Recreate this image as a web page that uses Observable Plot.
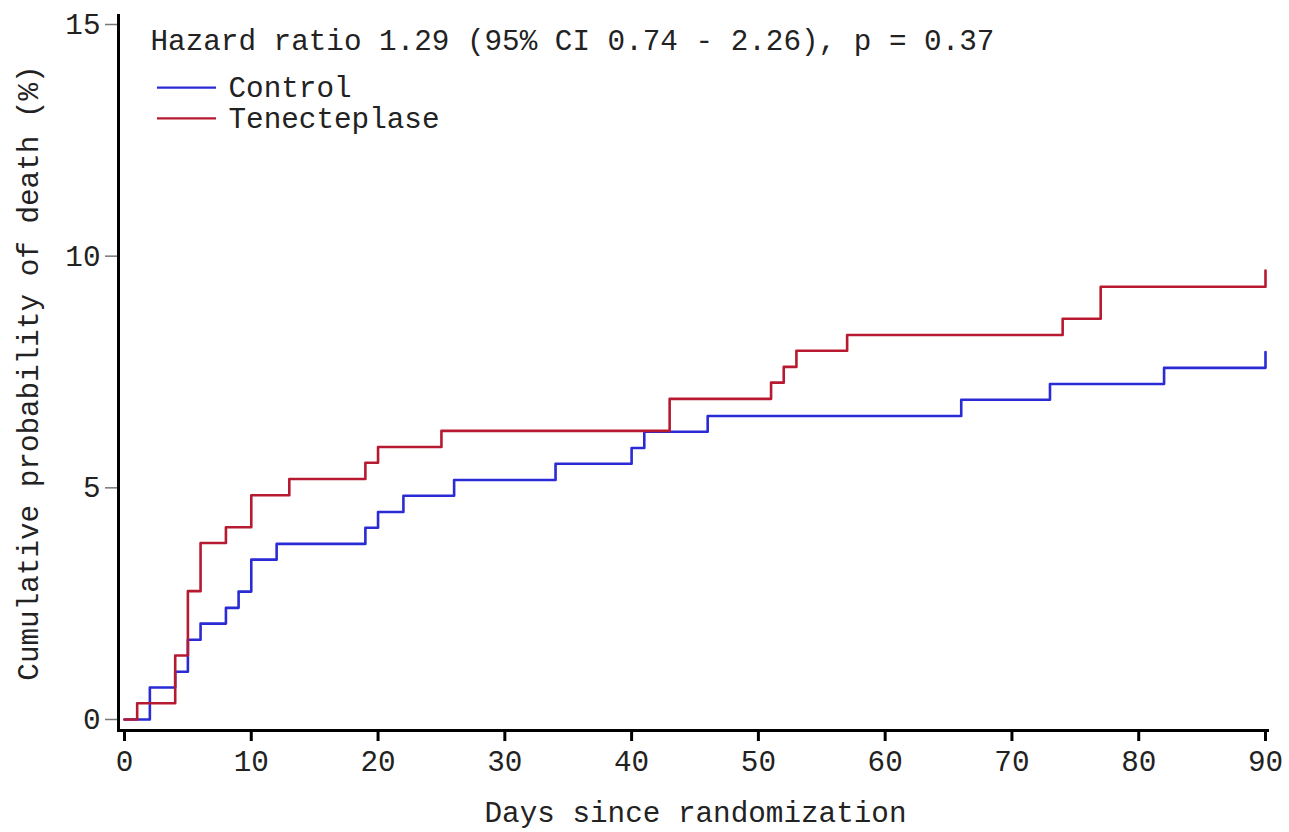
<!DOCTYPE html>
<html><head><meta charset="utf-8">
<script src="https://cdn.jsdelivr.net/npm/d3@7"></script>
<script src="https://cdn.jsdelivr.net/npm/@observablehq/plot@0.6"></script>
<style>body{margin:0;background:#fff} #chart svg{display:block}</style>
</head><body><div id="chart"></div>
<script>
// Kaplan-Meier step values (cumulative % dead)
const controlDays = [0, 2, 4, 5, 6, 8, 9, 10, 12, 19, 20, 22, 26, 34, 40, 41, 46, 66, 73, 82, 90];
const controlPct  = [0, 0.69, 1.03, 1.72, 2.07, 2.41, 2.76, 3.45, 3.79, 4.14, 4.48, 4.83, 5.17, 5.52, 5.86, 6.21, 6.55, 6.90, 7.24, 7.59, 7.93];
const tnkDays = [0, 1, 4, 5, 6, 8, 10, 13, 19, 20, 25, 43, 51, 52, 53, 57, 74, 77, 90];
const tnkPct  = [0, 0.35, 1.38, 2.77, 3.81, 4.15, 4.84, 5.19, 5.54, 5.88, 6.23, 6.92, 7.27, 7.61, 7.96, 8.30, 8.65, 9.34, 9.69];

const xTicks = [0, 10, 20, 30, 40, 50, 60, 70, 80, 90];
const yTicks = [0, 5, 10, 15];
const seriesNames = ["Control", "Tenecteplase"];
const seriesColors = ["#2a2ad6", "#b71a30"];
const annotation = "Hazard ratio 1.29 (95% CI 0.74 - 2.26), p = 0.37";
const xLabel = "Days since randomization";
const yLabel = "Cumulative probability of death (%)";

const rows = [
  ...controlDays.map((d, i) => ({series: seriesNames[0], day: d, pct: controlPct[i]})),
  ...tnkDays.map((d, i) => ({series: seriesNames[1], day: d, pct: tnkPct[i]}))
];

const font = "'Liberation Mono', 'DejaVu Sans Mono', monospace";
const fs = 29.3;
const ink = "#222";

const plot = Plot.plot({
  width: 1289, height: 832,
  marginTop: 15, marginRight: 22, marginBottom: 102, marginLeft: 118,
  style: {fontFamily: font, fontSize: fs + "px", background: "#fff", color: ink},
  x: {domain: [0, 90], insetLeft: 6, insetRight: 2},
  y: {domain: [0, 15], insetTop: 9, insetBottom: 11},
  color: {domain: seriesNames, range: seriesColors},
  marks: [
    Plot.axisY({ticks: yTicks, tickSize: 13, tickPadding: 5, stroke: "#777", strokeWidth: 1.5, label: null, fill: ink, fontSize: fs}),
    Plot.axisX({ticks: xTicks, tickSize: 11, tickPadding: 8.4, stroke: "#000", strokeWidth: 3, label: null, fill: ink, fontSize: fs}),
    Plot.line(rows, {x: "day", y: "pct", z: "series", stroke: "series", curve: "step-after", strokeWidth: 2.6}),
    Plot.frame({anchor: "left", stroke: "#000", strokeWidth: 3}),
    Plot.frame({anchor: "bottom", stroke: "#000", strokeWidth: 3}),
    Plot.text([annotation], {text: d => d, frameAnchor: "top-left", dx: 32, dy: 25.6, textAnchor: "start", lineAnchor: "middle", fill: ink, fontSize: fs}),
    Plot.text([seriesNames[0]], {text: d => d, frameAnchor: "top-left", dx: 110, dy: 72.1, textAnchor: "start", lineAnchor: "middle", fill: ink, fontSize: fs}),
    Plot.text([seriesNames[1]], {text: d => d, frameAnchor: "top-left", dx: 110, dy: 103.6, textAnchor: "start", lineAnchor: "middle", fill: ink, fontSize: fs}),
    Plot.text([xLabel], {text: d => d, frameAnchor: "bottom", dx: 2.5, dy: 82, lineAnchor: "middle", fill: ink, fontSize: fs}),
    Plot.text([yLabel], {text: d => d, frameAnchor: "left", dx: -90, rotate: -90, textAnchor: "middle", lineAnchor: "middle", fill: ink, fontSize: fs})
  ]
});

// legend swatches (layout only)
const svg = d3.select(plot);
seriesColors.forEach((c, i) => {
  svg.append("line")
    .attr("x1", 157).attr("x2", 216)
    .attr("y1", 87.7 + i * 30.6).attr("y2", 87.7 + i * 30.6)
    .attr("stroke", c).attr("stroke-width", 2.2);
});

document.getElementById("chart").append(plot);
</script>
</body></html>
